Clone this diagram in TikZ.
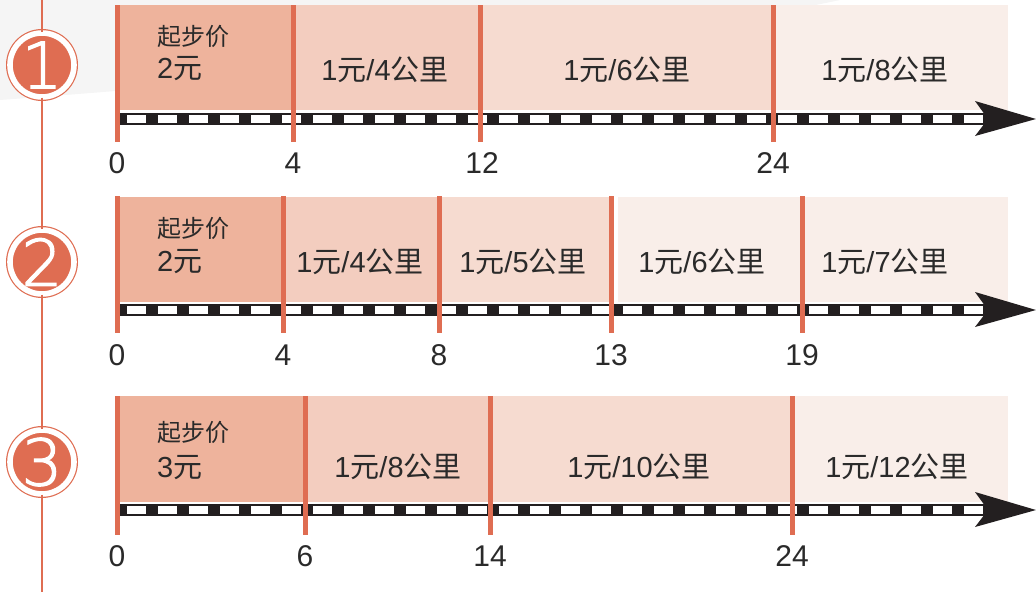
\documentclass[tikz,border=0pt]{standalone}
\usepackage{fontspec}
\setmainfont{Liberation Sans}
\newfontfamily\zh{Noto Sans CJK SC}
\newfontfamily\thin{DejaVu Sans ExtraLight}[FakeBold=2]
\definecolor{rust}{HTML}{DF6D52}
\definecolor{tintA}{HTML}{EEB39C}
\definecolor{tintB}{HTML}{F3CDBF}
\definecolor{tintC}{HTML}{F6DBD0}
\definecolor{tintD}{HTML}{F9EEE9}
\definecolor{ink}{HTML}{2A2A2A}
\definecolor{rail}{HTML}{231F20}
\newcommand\perkm[1]{1{\zh 元}/#1{\zh 公里}}

\begin{document}
\begin{tikzpicture}
[x=1pt, y=-1pt, every node/.style={inner sep=0pt},
 badge/.style={circle, minimum size=64pt, fill=rust, draw=rust, line width=1.2pt, double=white, double distance=5.6pt, text=white, font=\thin\fontsize{64}{64}\selectfont},
 fare/.style={text=ink, font=\fontsize{29}{30}\selectfont},
 startfee/.style={anchor=west, text=ink, font=\zh\fontsize{24}{26}\selectfont},
 km/.style={text=ink, font=\fontsize{30}{30}\selectfont},
 tick/.style={draw=rust, line width=5pt},
 railbase/.style={draw=rail, line width=12pt},
 railgap/.style={draw=white, line width=8pt, dash pattern=on 19pt off 12pt}]
\useasboundingbox (0,0) rectangle (1036,592);
\fill [black!4] (0,0) -- (0,100) .. controls (400,70) and (650,40) .. (840,0) -- cycle;

% row 1
\fill [tintA] (117,5) rectangle (293,110);
\fill [tintB] (293,5) rectangle (480,110);
\fill [tintC] (480,5) rectangle (773,110);
\fill [tintD] (773,5) rectangle (1008,110);
\coordinate (s1) at (117,119);
\coordinate (e1) at (988,119);
\draw [railbase] (s1) -- (e1);
\draw [railgap] (127,119) -- (e1);
\fill [rail] (1036,119) -- (975,101) -- (988,119) -- (975,136) -- cycle;
\draw [tick] (117,5) -- (117,142);
\draw [tick] (293,5) -- (293,142);
\draw [tick] (480,5) -- (480,142);
\draw [tick] (773,5) -- (773,142);
\node (f1) [startfee] at (157,36) {起步价};
\node (p1) [startfee, font=\fontsize{29}{30}\selectfont] at (157,69) {2{\zh 元}};
\node (r1b) [fare] at (385,70) {\perkm{4}};
\node (r1c) [fare] at (627,70) {\perkm{6}};
\node (r1d) [fare] at (885,70) {\perkm{8}};
\node (k1a) [km] at (117,163) {0};
\node (k1b) [km] at (293,163) {4};
\node (k1c) [km] at (482,163) {12};
\node (k1d) [km] at (773,163) {24};

% row 2
\fill [tintA] (117,197) rectangle (283,302);
\fill [tintB] (283,197) rectangle (439,302);
\fill [tintC] (439,197) rectangle (611,302);
\fill [tintD] (618,197) rectangle (802,302);
\fill [tintD] (802,197) rectangle (1008,302);
\coordinate (s2) at (117,310);
\coordinate (e2) at (988,310);
\draw [railbase] (s2) -- (e2);
\draw [railgap] (127,310) -- (e2);
\fill [rail] (1036,310) -- (975,292) -- (988,310) -- (975,327) -- cycle;
\draw [tick] (117,196) -- (117,333);
\draw [tick] (283,196) -- (283,333);
\draw [tick] (439,196) -- (439,333);
\draw [tick] (611,196) -- (611,333);
\draw [tick] (802,196) -- (802,333);
\node (f2) [startfee] at (157,228) {起步价};
\node (p2) [startfee, font=\fontsize{29}{30}\selectfont] at (157,262) {2{\zh 元}};
\node (r2b) [fare] at (360,262) {\perkm{4}};
\node (r2c) [fare] at (523,262) {\perkm{5}};
\node (r2d) [fare] at (702,262) {\perkm{6}};
\node (r2e) [fare] at (885,262) {\perkm{7}};
\node (k2a) [km] at (117,355) {0};
\node (k2b) [km] at (283,355) {4};
\node (k2c) [km] at (439,355) {8};
\node (k2d) [km] at (611,355) {13};
\node (k2e) [km] at (802,355) {19};

% row 3
\fill [tintA] (117,396) rectangle (305,502);
\fill [tintB] (305,396) rectangle (490,502);
\fill [tintC] (490,396) rectangle (792,502);
\fill [tintD] (792,396) rectangle (1008,502);
\coordinate (s3) at (117,510);
\coordinate (e3) at (988,510);
\draw [railbase] (s3) -- (e3);
\draw [railgap] (127,510) -- (e3);
\fill [rail] (1036,510) -- (975,492) -- (988,510) -- (975,527) -- cycle;
\draw [tick] (117,396) -- (117,535);
\draw [tick] (305,396) -- (305,535);
\draw [tick] (490,396) -- (490,535);
\draw [tick] (792,396) -- (792,535);
\node (f3) [startfee] at (157,432) {起步价};
\node (p3) [startfee, font=\fontsize{29}{30}\selectfont] at (157,468) {3{\zh 元}};
\node (r3b) [fare] at (398,467) {\perkm{8}};
\node (r3c) [fare] at (639,467) {\perkm{10}};
\node (r3d) [fare] at (897,467) {\perkm{12}};
\node (k3a) [km] at (117,556) {0};
\node (k3b) [km] at (305,556) {6};
\node (k3c) [km] at (490,556) {14};
\node (k3d) [km] at (792,556) {24};

% badges on the spine
\node (c1) [badge] at (42,65) {1};
\node (c2) [badge] at (42,262) {2};
\node (c3) [badge] at (42,462) {3};
\coordinate (top) at (42,0);
\coordinate (bottom) at (42,592);
\draw [rust, line width=2pt] (top) -- (c1) -- (c2) -- (c3) -- (bottom);
\end{tikzpicture}
\end{document}
